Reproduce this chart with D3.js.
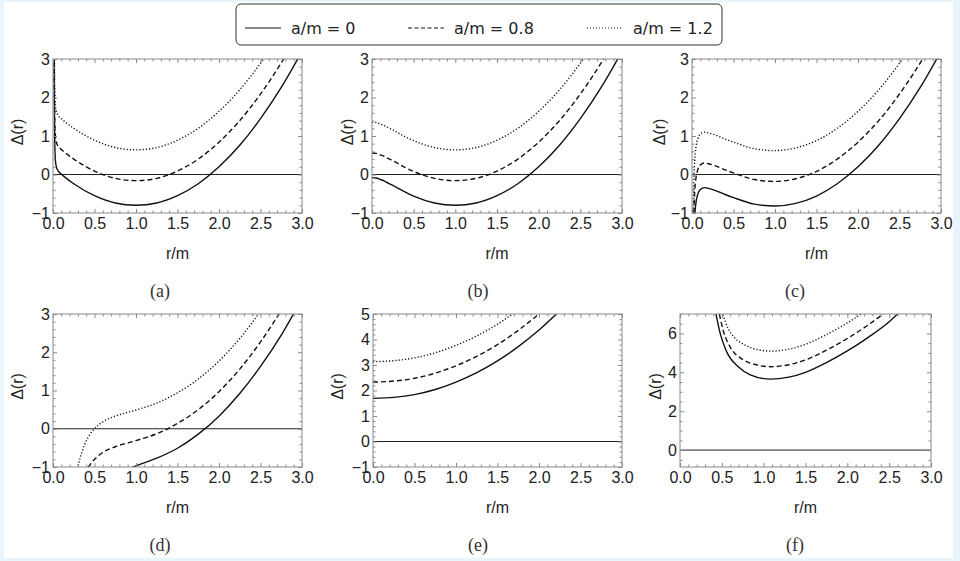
<!DOCTYPE html>
<html>
<head>
<meta charset="utf-8">
<script src="https://cdn.jsdelivr.net/npm/d3@7"></script>
<style>
  body { margin: 0; background: #e9f4fb; }
  svg { display: block; }
  .tick text { font-family: "Liberation Sans", Arial, sans-serif; font-size: 16px; fill: #222; }
</style>
</head>
<body>
<svg id="chart" width="960" height="561"></svg>
<script>
// series, [r/m, Delta]
const seriesNames = ['a/m = 0', 'a/m = 0.8', 'a/m = 1.2'];
const panelNames = ['(a)', '(b)', '(c)', '(d)', '(e)', '(f)'];

const aSolid = [[0.01,4.0],[0.015,2.0],[0.02,1.0],[0.025,0.55],[0.03,0.35],[0.04,0.2],[0.06,0.1],[0.1,0.01],[0.15,-0.08],[0.25,-0.24],[0.5,-0.55],[0.75,-0.74],[1,-0.8],[1.25,-0.74],[1.5,-0.55],[1.75,-0.24],[2,0.2],[2.25,0.76],[2.5,1.45],[2.75,2.26],[3,3.2]];
const aDashed = [[0.01,4.6],[0.015,2.6],[0.02,1.64],[0.025,1.19],[0.03,0.99],[0.04,0.84],[0.06,0.74],[0.1,0.65],[0.15,0.56],[0.25,0.40],[0.5,0.09],[0.75,-0.10],[1,-0.16],[1.25,-0.10],[1.5,0.09],[1.75,0.40],[2,0.84],[2.25,1.40],[2.5,2.09],[2.75,2.90],[3,3.84]];
const aDotted = [[0.01,5.4],[0.015,3.4],[0.02,2.44],[0.025,1.99],[0.03,1.79],[0.04,1.64],[0.06,1.54],[0.1,1.45],[0.15,1.36],[0.25,1.20],[0.5,0.89],[0.75,0.70],[1,0.64],[1.25,0.70],[1.5,0.89],[1.75,1.20],[2,1.64],[2.25,2.20],[2.5,2.89],[2.75,3.70]];

const bSolid = [[0,-0.08],[0.05,-0.09],[0.1,-0.13],[0.15,-0.17],[0.2,-0.23],[0.25,-0.28],[0.3,-0.34],[0.4,-0.46],[0.5,-0.56],[0.75,-0.74],[1,-0.8],[1.25,-0.74],[1.5,-0.55],[1.75,-0.24],[2,0.2],[2.25,0.76],[2.5,1.45],[2.75,2.26],[3,3.2]];
const bDashed = [[0,0.56],[0.05,0.55],[0.1,0.51],[0.15,0.47],[0.2,0.41],[0.25,0.36],[0.3,0.30],[0.4,0.18],[0.5,0.08],[0.75,-0.10],[1,-0.16],[1.25,-0.10],[1.5,0.09],[1.75,0.40],[2,0.84],[2.25,1.40],[2.5,2.09],[2.75,2.90],[3,3.84]];
const bDotted = [[0,1.36],[0.05,1.35],[0.1,1.31],[0.15,1.27],[0.2,1.21],[0.25,1.16],[0.3,1.10],[0.4,0.98],[0.5,0.88],[0.75,0.70],[1,0.64],[1.25,0.70],[1.5,0.89],[1.75,1.20],[2,1.64],[2.25,2.20],[2.5,2.89],[2.75,3.70]];

const cSolid = [[0.03,-1.19],[0.04,-0.88],[0.05,-0.70],[0.07,-0.51],[0.1,-0.39],[0.15,-0.34],[0.2,-0.36],[0.3,-0.43],[0.4,-0.52],[0.5,-0.60],[0.75,-0.77],[1,-0.82],[1.25,-0.75],[1.5,-0.56],[1.75,-0.24],[2,0.2],[2.25,0.76],[2.5,1.45],[2.75,2.26],[3,3.2]];
const cDashed = [[0.02,-1.2],[0.03,-0.55],[0.04,-0.24],[0.05,-0.06],[0.07,0.13],[0.1,0.25],[0.15,0.30],[0.2,0.28],[0.3,0.21],[0.4,0.12],[0.5,0.04],[0.75,-0.13],[1,-0.18],[1.25,-0.11],[1.5,0.08],[1.75,0.40],[2,0.84],[2.25,1.40],[2.5,2.09],[2.75,2.90],[3,3.84]];
const cDotted = [[0.015,-1.06],[0.02,-0.40],[0.03,0.25],[0.04,0.56],[0.05,0.74],[0.07,0.93],[0.1,1.05],[0.15,1.10],[0.2,1.08],[0.3,1.01],[0.4,0.92],[0.5,0.84],[0.75,0.67],[1,0.62],[1.25,0.69],[1.5,0.88],[1.75,1.20],[2,1.64],[2.25,2.20],[2.5,2.89],[2.75,3.70]];

const dSolid = [[0.9,-1.06],[1,-0.97],[1.25,-0.77],[1.5,-0.51],[1.75,-0.14],[2,0.33],[2.25,0.92],[2.5,1.63],[2.75,2.45],[3,3.40]];
const dDashed = [[0.35,-1.40],[0.4,-1.12],[0.45,-0.93],[0.5,-0.80],[0.6,-0.62],[0.75,-0.47],[1,-0.31],[1.25,-0.13],[1.5,0.14],[1.75,0.50],[2,0.97],[2.25,1.56],[2.5,2.27],[2.75,3.09]];
const dDotted = [[0.25,-1.63],[0.3,-1.0],[0.35,-0.60],[0.4,-0.32],[0.45,-0.13],[0.5,0.0],[0.6,0.18],[0.75,0.33],[0.9,0.43],[1,0.49],[1.25,0.67],[1.5,0.94],[1.75,1.30],[2,1.77],[2.25,2.36],[2.5,3.07]];

const eSolid = [[0,1.69],[0.25,1.73],[0.5,1.84],[0.75,2.04],[1,2.33],[1.25,2.70],[1.5,3.16],[1.75,3.72],[2,4.37],[2.25,5.13]];
const eDashed = [[0,2.33],[0.25,2.37],[0.5,2.48],[0.75,2.68],[1,2.97],[1.25,3.34],[1.5,3.80],[1.75,4.36],[2,5.01],[2.25,5.77]];
const eDotted = [[0,3.13],[0.25,3.17],[0.5,3.28],[0.75,3.48],[1,3.77],[1.25,4.14],[1.5,4.60],[1.75,5.16]];

const fSolid = [[0.4,7.6],[0.43,7.0],[0.48,6.0],[0.55,5.13],[0.7,4.27],[0.84,3.87],[1.08,3.65],[1.3,3.75],[1.5,4.0],[1.75,4.5],[2,5.1],[2.25,5.8],[2.5,6.6],[2.6,7.0]];
const fDashed = [[0.43,7.8],[0.47,7.0],[0.52,6.1],[0.6,5.3],[0.75,4.66],[0.9,4.4],[1.08,4.29],[1.3,4.39],[1.5,4.64],[1.75,5.14],[2,5.74],[2.25,6.44],[2.5,7.24]];
const fDotted = [[0.47,7.6],[0.51,7.0],[0.57,6.3],[0.65,5.8],[0.8,5.35],[0.95,5.15],[1.08,5.09],[1.3,5.19],[1.5,5.44],[1.75,5.94],[2,6.54],[2.25,7.24]];

const xTickValues = [0, 0.5, 1, 1.5, 2, 2.5, 3];
const yTicksSmall = [-1, 0, 1, 2, 3];
const yTicksE = [-1, 0, 1, 2, 3, 4, 5];
const yTicksF = [0, 2, 4, 6];

// layout of the six frames (pixels)
const panels = [
  { name: panelNames[0], data: [aSolid, aDashed, aDotted], left: 53, right: 302, top: 59, bottom: 213, yDomain: [-1, 3], yTicks: yTicksSmall, minorStep: 0.2, labelX: 17, capX: 160, capY: 291 },
  { name: panelNames[1], data: [bSolid, bDashed, bDotted], left: 372, right: 622, top: 59, bottom: 213, yDomain: [-1, 3], yTicks: yTicksSmall, minorStep: 0.2, labelX: 347, capX: 478, capY: 291 },
  { name: panelNames[2], data: [cSolid, cDashed, cDotted], left: 692, right: 941, top: 59, bottom: 213, yDomain: [-1, 3], yTicks: yTicksSmall, minorStep: 0.2, labelX: 659, capX: 795, capY: 291 },
  { name: panelNames[3], data: [dSolid, dDashed, dDotted], left: 53, right: 302, top: 314, bottom: 467, yDomain: [-1, 3], yTicks: yTicksSmall, minorStep: 0.2, labelX: 17, capX: 160, capY: 545 },
  { name: panelNames[4], data: [eSolid, eDashed, eDotted], left: 373, right: 622, top: 314, bottom: 467, yDomain: [-1, 5], yTicks: yTicksE, minorStep: 0.2, labelX: 337, capX: 478, capY: 545 },
  { name: panelNames[5], data: [fSolid, fDashed, fDotted], left: 680, right: 931, top: 314, bottom: 467, yDomain: [-0.87, 7], yTicks: yTicksF, minorStep: 0.5, labelX: 655, capX: 795, capY: 545 }
];

const dashes = [null, '5,3', '1.2,2'];

const svg = d3.select('#chart');

svg.append('rect')
   .attr('x', 4).attr('y', 2)
   .attr('width', 949).attr('height', 556)
   .attr('fill', 'white');

var frameColor = '#8a8a8a';

panels.forEach((p, pi) => {
  var x = d3.scaleLinear().domain([0, 3]).range([p.left, p.right]);
  var y = d3.scaleLinear().domain(p.yDomain).range([p.bottom, p.top]);

  var xMinor = d3.range(0, 3.0001, 0.1).filter(v => Math.abs(v * 2 - Math.round(v * 2)) > 1e-6);
  var yMinor = d3.range(Math.ceil(p.yDomain[0] / p.minorStep) * p.minorStep, p.yDomain[1] + 1e-6, p.minorStep)
                 .filter(v => !p.yTicks.some(t => Math.abs(t - v) < 1e-6));

  var g = svg.append('g').attr('class', 'panel');

  // clip for the curves
  g.append('clipPath').attr('id', 'clip' + pi)
   .append('rect')
   .attr('x', p.left).attr('y', p.top)
   .attr('width', p.right - p.left).attr('height', p.bottom - p.top);

  // zero line
  g.append('line')
   .attr('x1', p.left).attr('x2', p.right)
   .attr('y1', y(0)).attr('y2', y(0))
   .attr('stroke', '#222').attr('stroke-width', 1);

  // curves
  var line = d3.line()
               .x(d => x(d[0]))
               .y(d => y(d[1]))
               .curve(d3.curveMonotoneX);

  g.append('g').attr('clip-path', 'url(#clip' + pi + ')')
   .selectAll('path')
   .data(p.data)
   .enter()
   .append('path')
   .attr('d', d => line(d))
   .attr('fill', 'none')
   .attr('stroke', '#111')
   .attr('stroke-width', 1.4)
   .attr('stroke-dasharray', (d, i) => dashes[i]);

  // frame axes, ticks pointing inward
  var axes = [
    { ax: d3.axisBottom(x).tickValues(xTickValues).tickFormat(d3.format('.1f')), tr: 'translate(0,' + p.bottom + ')', size: 4 },
    { ax: d3.axisBottom(x).tickValues(xMinor).tickFormat(''), tr: 'translate(0,' + p.bottom + ')', size: 2.5 },
    { ax: d3.axisTop(x).tickValues(xTickValues).tickFormat(''), tr: 'translate(0,' + p.top + ')', size: 4 },
    { ax: d3.axisTop(x).tickValues(xMinor).tickFormat(''), tr: 'translate(0,' + p.top + ')', size: 2.5 },
    { ax: d3.axisLeft(y).tickValues(p.yTicks).tickFormat(d => d < 0 ? '\u2212' + Math.abs(d) : d), tr: 'translate(' + p.left + ',0)', size: 4 },
    { ax: d3.axisLeft(y).tickValues(yMinor).tickFormat(''), tr: 'translate(' + p.left + ',0)', size: 2.5 },
    { ax: d3.axisRight(y).tickValues(p.yTicks).tickFormat(''), tr: 'translate(' + p.right + ',0)', size: 4 },
    { ax: d3.axisRight(y).tickValues(yMinor).tickFormat(''), tr: 'translate(' + p.right + ',0)', size: 2.5 }
  ];

  axes.forEach((a, ai) => {
    var ag = g.append('g')
              .attr('transform', a.tr)
              .call(a.ax.tickSizeInner(-a.size).tickSizeOuter(0).tickPadding(ai == 0 ? 5 : 3));
    ag.select('.domain').remove();
    ag.selectAll('line').attr('stroke', frameColor).attr('stroke-width', 1);
  });

  g.append('rect')
   .attr('x', p.left).attr('y', p.top)
   .attr('width', p.right - p.left).attr('height', p.bottom - p.top)
   .attr('fill', 'none')
   .attr('stroke', frameColor)
   .attr('stroke-width', 1);

  // axis titles
  g.append('text')
   .attr('x', (p.left + p.right) / 2)
   .attr('y', p.bottom + 46)
   .attr('text-anchor', 'middle')
   .style('font-family', '"Liberation Sans", Arial, sans-serif')
   .style('font-size', '16px')
   .style('fill', '#222')
   .text('r/m');

  g.append('text')
   .attr('transform', 'translate(' + (p.labelX + 6) + ',' + ((p.top + p.bottom) / 2 - 4) + ') rotate(-90)')
   .attr('text-anchor', 'middle')
   .style('font-family', '"Liberation Sans", Arial, sans-serif')
   .style('font-size', '16px')
   .style('fill', '#222')
   .text('\u0394(r)');

  // sub-figure caption
  g.append('text')
   .attr('x', p.capX)
   .attr('y', p.capY + 6)
   .attr('text-anchor', 'middle')
   .style('font-family', '"Liberation Serif", "DejaVu Serif", serif')
   .style('font-size', '18px')
   .style('fill', '#333')
   .text(p.name);
});

// legend box
var legend = svg.append('g');
legend.append('rect')
      .attr('x', 236).attr('y', 4)
      .attr('width', 486).attr('height', 41)
      .attr('rx', 5)
      .attr('fill', 'white')
      .attr('stroke', '#333')
      .attr('stroke-width', 1);

var legendX = [245, 408, 587];
var legendItems = legend.selectAll('g.item')
      .data(seriesNames)
      .enter()
      .append('g')
      .attr('class', 'item')
      .attr('transform', (d, i) => 'translate(' + legendX[i] + ',28)');

legendItems.append('line')
      .attr('x1', 0).attr('x2', 36)
      .attr('stroke', '#111')
      .attr('stroke-width', 1.2)
      .attr('stroke-dasharray', (d, i) => i == 1 ? '4,2.5' : (i == 2 ? '1,2' : null));

legendItems.append('text')
      .attr('x', 46)
      .attr('y', 5.5)
      .style('font-family', '"DejaVu Sans", sans-serif')
      .style('font-size', '16px')
      .style('fill', '#222')
      .text(d => d);
</script>
</body>
</html>
